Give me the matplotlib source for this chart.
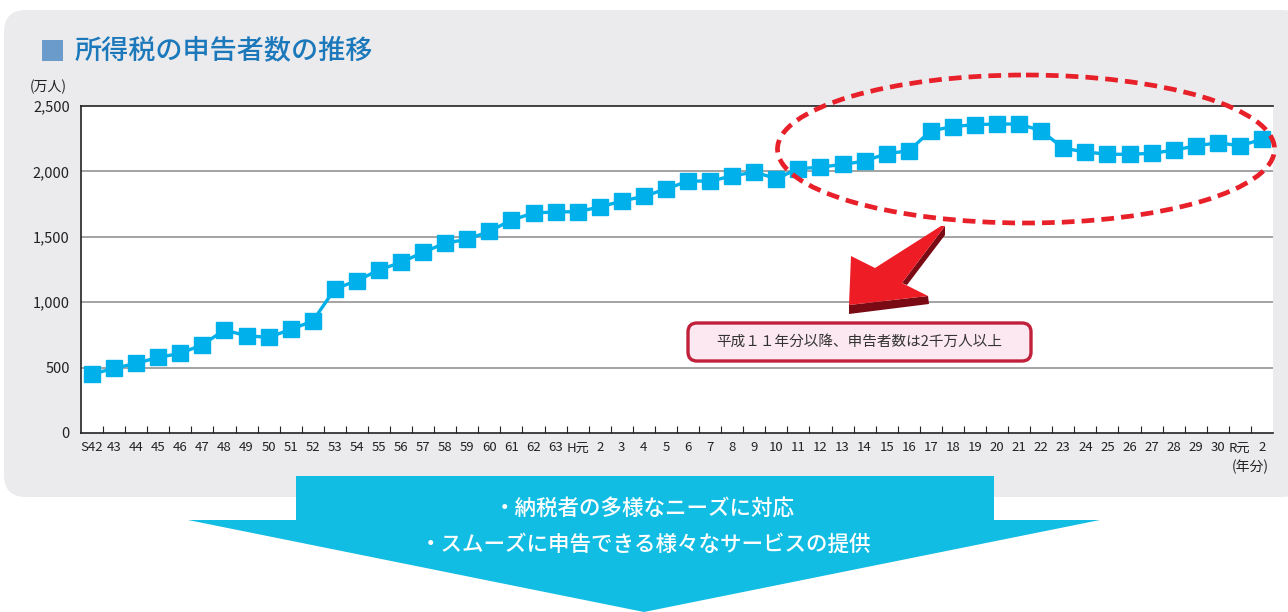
import matplotlib
matplotlib.use("Agg")
import matplotlib.pyplot as plt
from matplotlib.patches import FancyBboxPatch, Polygon, Ellipse, Rectangle
from matplotlib.transforms import Affine2D

plt.rcParams['font.family'] = ['Noto Sans CJK JP', 'DejaVu Sans']

# 年分ラベル
nendo = ['S42', '43', '44', '45', '46', '47', '48', '49', '50', '51', '52', '53',
         '54', '55', '56', '57', '58', '59', '60', '61', '62', '63',
         'H元', '2', '3', '4', '5', '6', '7', '8', '9', '10', '11', '12', '13',
         '14', '15', '16', '17', '18', '19', '20', '21', '22', '23', '24', '25',
         '26', '27', '28', '29', '30', 'R元', '2']

# 申告者数（万人）
shinkoku = [451, 494, 533, 578, 609, 675, 787, 744, 731, 792, 856, 1101,
            1165, 1246, 1305, 1381, 1452, 1480, 1542, 1628, 1682, 1690,
            1692, 1728, 1773, 1810, 1865, 1926, 1926, 1965, 1995, 1945,
            2020, 2033, 2053, 2079, 2136, 2157, 2311, 2342, 2358, 2362,
            2362, 2311, 2177, 2149, 2131, 2131, 2138, 2162, 2195, 2219,
            2196, 2245]

y_ticks = [0, 500, 1000, 1500, 2000, 2500]
y_labels = ['0', '500', '1,000', '1,500', '2,000', '2,500']

W, H = 1288, 612
fig = plt.figure(figsize=(W / 100, H / 100), dpi=100)
fig.patch.set_facecolor('white')

# ピクセル座標（左上原点）用の変換
px = Affine2D().scale(1 / W, -1 / H).translate(0, 1) + fig.transFigure

# 背景パネル
fig.patches.append(FancyBboxPatch((4, 10), 1300, 487, boxstyle="round,pad=0,rounding_size=22",
                                  transform=px, facecolor='#ebebed', edgecolor='none', zorder=-1))

# 下の青い矢印
arrow_col = '#12bde3'
fig.patches.append(Rectangle((296, 476), 698, 46, transform=px, facecolor=arrow_col,
                             edgecolor='none', zorder=1))
fig.patches.append(Polygon([(188, 520), (1100, 520), (644, 612)], closed=True, transform=px,
                           facecolor=arrow_col, edgecolor='none', zorder=1))
fig.text(644 / W, 1 - 510 / H, '・納税者の多様なニーズに対応', color='white', fontsize=15.5,
         fontweight='medium', ha='center', va='center', zorder=3)
fig.text(645 / W, 1 - 545 / H, '・スムーズに申告できる様々なサービスの提供', color='white', fontsize=15.5,
         fontweight='medium', ha='center', va='center', zorder=3)

# タイトル
fig.patches.append(Rectangle((42, 40), 21, 21, transform=px, facecolor='#6b9bcb',
                             edgecolor='none', zorder=2))
fig.text(75 / W, 1 - 51 / H, '所得税の申告者数の推移', color='#1a78bb', fontsize=19.5,
         fontweight='medium', ha='left', va='center')

# グラフ本体
ax = fig.add_axes([81 / W, (H - 433) / H, (1273 - 81) / W, 327 / H])
ax.set_zorder(2)
ax.set_facecolor('white')
x = list(range(len(shinkoku)))
ax.plot(x, shinkoku, color='#00b0eb', linewidth=2.4, marker='s', markersize=11,
        markerfacecolor='#00b0eb', markeredgecolor='#00b0eb', zorder=3, clip_on=False)

ax.set_xlim(-0.5, len(shinkoku) - 0.5)
ax.set_ylim(0, 2500)
ax.set_yticks(y_ticks)
ax.set_yticklabels(y_labels, fontsize=10.5, color='#222222')
ax.tick_params(axis='y', length=0, pad=8)
for v in y_ticks[1:-1]:
    ax.axhline(v, color='#8a8a8a', linewidth=1.1, zorder=1)

ax.set_xticks([i + 0.5 for i in range(len(shinkoku) - 1)])
ax.set_xticklabels([])
ax.tick_params(axis='x', which='major', direction='in', length=5, width=0.8, color='#222222')
ax.set_xticks(x, minor=True)
ax.set_xticklabels(nendo, minor=True, fontsize=9.5, color='#222222')
ax.tick_params(axis='x', which='minor', length=0, pad=6)

for side in ['left', 'bottom', 'top']:
    ax.spines[side].set_color('#222222')
    ax.spines[side].set_linewidth(1.2)
ax.spines['right'].set_visible(False)

fig.text(30 / W, 1 - 87 / H, '(万人)', fontsize=10, color='#222222', ha='left', va='center')
fig.text(1250 / W, 1 - 467 / H, '(年分)', fontsize=10, color='#222222', ha='center', va='center')

# 赤い点線の楕円
fig.patches.append(Ellipse((1026, 149), 497, 148, transform=px, facecolor='none',
                           edgecolor='#e8202a', linewidth=3.4, linestyle=(0, (2.7, 1.5)), zorder=5))

# 赤い矢印（立体）
fig.patches.append(Polygon([(849, 305), (928, 296), (929, 304), (849, 314)], closed=True,
                           transform=px, facecolor='#7a0a14', edgecolor='none', zorder=5))
fig.patches.append(Polygon([(945, 226), (945, 235), (907, 285), (902, 283)], closed=True,
                           transform=px, facecolor='#7a0a14', edgecolor='none', zorder=5))
fig.patches.append(Polygon([(849, 305), (851, 256), (875, 268), (941, 226), (945, 226),
                            (902, 283), (928, 296)], closed=True, transform=px,
                           facecolor='#ee1c25', edgecolor='none', zorder=6))

# 注記ボックス
fig.patches.append(FancyBboxPatch((688, 323), 343, 38, boxstyle="round,pad=0,rounding_size=9",
                                  transform=px, facecolor='#fce8f0', edgecolor='#c0203a',
                                  linewidth=2.4, zorder=6))
fig.text(859 / W, 1 - 342 / H, '平成１１年分以降、申告者数は2千万人以上', fontsize=10.5,
         color='#333333', ha='center', va='center', zorder=7)

fig.savefig('out.png', dpi=100)
